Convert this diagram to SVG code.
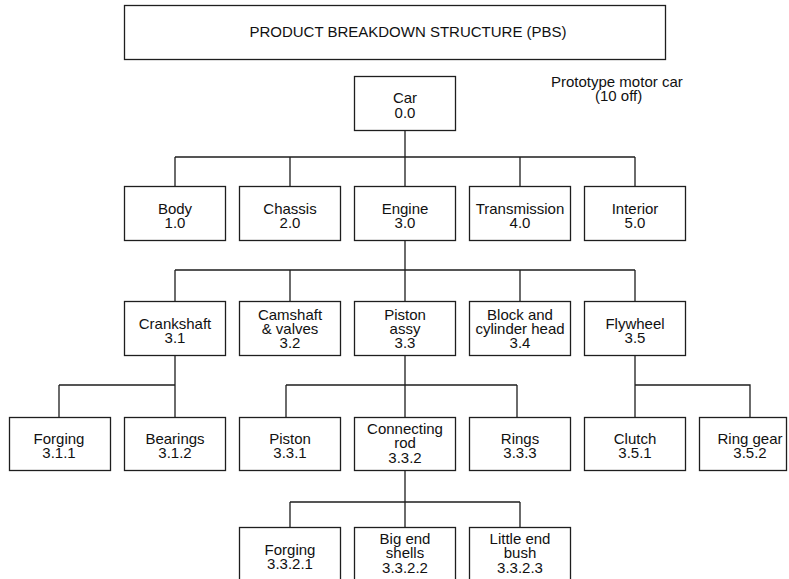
<svg xmlns="http://www.w3.org/2000/svg" width="789" height="579" viewBox="0 0 789 579">
<style>
  .box { fill: #ffffff; stroke: #1e1e1e; stroke-width: 1.3; }
  .ln { fill: none; stroke: #1e1e1e; stroke-width: 1.3; }
  text { font-family: "Liberation Sans", Arial, Helvetica, sans-serif; font-size: 15px; fill: #111111; }
  .c { text-anchor: middle; }
</style>
<rect width="789" height="579" fill="#ffffff"/>

<g id="title">
  <rect class="box" x="124.5" y="5.5" width="541" height="54"/>
  <text class="c" x="408" y="37">PRODUCT BREAKDOWN STRUCTURE (PBS)</text>
</g>

<g id="note">
  <text x="551" y="87">Prototype motor car<tspan x="595" y="101">(10 off)</tspan></text>
</g>

<g id="connectors">
  <path class="ln" d="M405,130 V157 M175,157 H635 M175,157 V186 M290,157 V186 M405,157 V186 M520,157 V186 M635,157 V186"/>
  <path class="ln" d="M405,240 V270 M175,270 H635 M175,270 V301 M290,270 V301 M405,270 V301 M520,270 V301 M635,270 V301"/>
  <path class="ln" d="M175,355 V417 M59,385 H175 M59,385 V417"/>
  <path class="ln" d="M405,355 V417 M286,385 H517 M286,385 V417 M517,385 V417"/>
  <path class="ln" d="M635,355 V417 M635,385 H750 V417"/>
  <path class="ln" d="M405,470 V527 M290,502 H520 M290,502 V527 M520,502 V527"/>
</g>

<g id="car">
  <rect class="box" x="354.5" y="76.5" width="101" height="54"/>
  <text class="c" x="405" y="103">Car<tspan x="405" y="118">0.0</tspan></text>
</g>

<g id="body">
  <rect class="box" x="124.5" y="186.5" width="101" height="54"/>
  <text class="c" x="175" y="214">Body<tspan x="175" y="228">1.0</tspan></text>
</g>
<g id="chassis">
  <rect class="box" x="239.5" y="186.5" width="101" height="54"/>
  <text class="c" x="290" y="214">Chassis<tspan x="290" y="228">2.0</tspan></text>
</g>
<g id="engine">
  <rect class="box" x="354.5" y="186.5" width="101" height="54"/>
  <text class="c" x="405" y="214">Engine<tspan x="405" y="228">3.0</tspan></text>
</g>
<g id="transmission">
  <rect class="box" x="469.5" y="186.5" width="101" height="54"/>
  <text class="c" x="520" y="214">Transmission<tspan x="520" y="228">4.0</tspan></text>
</g>
<g id="interior">
  <rect class="box" x="584.5" y="186.5" width="101" height="54"/>
  <text class="c" x="635" y="214">Interior<tspan x="635" y="228">5.0</tspan></text>
</g>

<g id="crankshaft">
  <rect class="box" x="124.5" y="301.5" width="101" height="54"/>
  <text class="c" x="175" y="329">Crankshaft<tspan x="175" y="343">3.1</tspan></text>
</g>
<g id="camshaft">
  <rect class="box" x="239.5" y="301.5" width="101" height="54"/>
  <text class="c" x="290" y="320">Camshaft<tspan x="290" y="334">&amp; valves</tspan><tspan x="290" y="348">3.2</tspan></text>
</g>
<g id="piston-assy">
  <rect class="box" x="354.5" y="301.5" width="101" height="54"/>
  <text class="c" x="405" y="320">Piston<tspan x="405" y="334">assy</tspan><tspan x="405" y="348">3.3</tspan></text>
</g>
<g id="block">
  <rect class="box" x="469.5" y="301.5" width="101" height="54"/>
  <text class="c" x="520" y="320">Block and<tspan x="520" y="334">cylinder head</tspan><tspan x="520" y="348">3.4</tspan></text>
</g>
<g id="flywheel">
  <rect class="box" x="584.5" y="301.5" width="101" height="54"/>
  <text class="c" x="635" y="329">Flywheel<tspan x="635" y="343">3.5</tspan></text>
</g>

<g id="forging-311">
  <rect class="box" x="9.5" y="417.5" width="101" height="53"/>
  <text class="c" x="59" y="444">Forging<tspan x="59" y="458">3.1.1</tspan></text>
</g>
<g id="bearings">
  <rect class="box" x="124.5" y="417.5" width="101" height="53"/>
  <text class="c" x="175" y="444">Bearings<tspan x="175" y="458">3.1.2</tspan></text>
</g>
<g id="piston">
  <rect class="box" x="239.5" y="417.5" width="101" height="53"/>
  <text class="c" x="290" y="444">Piston<tspan x="290" y="458">3.3.1</tspan></text>
</g>
<g id="connecting-rod">
  <rect class="box" x="354.5" y="417.5" width="101" height="53"/>
  <text class="c" x="405" y="434">Connecting<tspan x="405" y="448">rod</tspan><tspan x="405" y="463">3.3.2</tspan></text>
</g>
<g id="rings">
  <rect class="box" x="469.5" y="417.5" width="101" height="53"/>
  <text class="c" x="520" y="444">Rings<tspan x="520" y="458">3.3.3</tspan></text>
</g>
<g id="clutch">
  <rect class="box" x="584.5" y="417.5" width="101" height="53"/>
  <text class="c" x="635" y="444">Clutch<tspan x="635" y="458">3.5.1</tspan></text>
</g>
<g id="ring-gear">
  <rect class="box" x="699.5" y="417.5" width="87" height="53"/>
  <text class="c" x="750" y="444">Ring gear<tspan x="750" y="458">3.5.2</tspan></text>
</g>

<g id="forging-3321">
  <rect class="box" x="239.5" y="527.5" width="101" height="70"/>
  <text class="c" x="290" y="555">Forging<tspan x="290" y="569">3.3.2.1</tspan></text>
</g>
<g id="big-end">
  <rect class="box" x="354.5" y="527.5" width="101" height="70"/>
  <text class="c" x="405" y="544">Big end<tspan x="405" y="558">shells</tspan><tspan x="405" y="573">3.3.2.2</tspan></text>
</g>
<g id="little-end">
  <rect class="box" x="469.5" y="527.5" width="101" height="70"/>
  <text class="c" x="520" y="544">Little end<tspan x="520" y="558">bush</tspan><tspan x="520" y="573">3.3.2.3</tspan></text>
</g>
</svg>
